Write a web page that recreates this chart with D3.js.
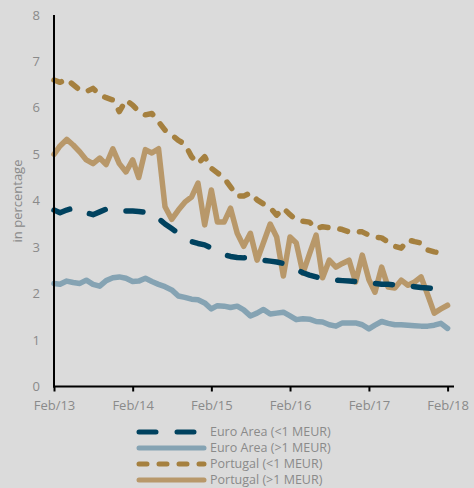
<!DOCTYPE html>
<html>
<head>
<meta charset="utf-8">
<script src="https://cdn.jsdelivr.net/npm/d3@7"></script>
<style>
  body { margin: 0; background: #dbdbdb; }
  svg { display: block; font-family: "Open Sans", sans-serif; }
</style>
</head>
<body>
<div id="chart"></div>
<script>
// monthly observations, Feb 2013 .. Feb 2018
const months = d3.timeMonth.range(new Date(2013, 1, 1), new Date(2018, 2, 1));

const euroSmall = [3.8, 3.74, 3.8, 3.84, 3.82, 3.74, 3.7, 3.76, 3.82, 3.82, 3.8, 3.78, 3.78, 3.77, 3.75, 3.74,
  3.62, 3.5, 3.4, 3.3, 3.2, 3.12, 3.08, 3.05, 2.98, 2.9, 2.84, 2.8, 2.78, 2.77, 2.77, 2.75, 2.72, 2.7, 2.68,
  2.65, 2.6, 2.52, 2.45, 2.4, 2.36, 2.32, 2.3, 2.29, 2.28, 2.27, 2.26, 2.25, 2.24, 2.22, 2.2, 2.2, 2.19,
  2.18, 2.17, 2.15, 2.13, 2.12, 2.11, 2.1, 2.1];

const euroLarge = [2.22, 2.2, 2.27, 2.24, 2.22, 2.29, 2.2, 2.16, 2.28, 2.34, 2.36, 2.33, 2.26, 2.27, 2.33, 2.26,
  2.2, 2.15, 2.08, 1.95, 1.92, 1.88, 1.87, 1.8, 1.67, 1.74, 1.73, 1.7, 1.73, 1.65, 1.52, 1.58, 1.66, 1.56,
  1.58, 1.6, 1.52, 1.44, 1.46, 1.45, 1.4, 1.39, 1.33, 1.3, 1.37, 1.37, 1.37, 1.33, 1.24, 1.32, 1.4, 1.36,
  1.33, 1.33, 1.32, 1.31, 1.3, 1.3, 1.32, 1.36, 1.25];

const ptSmall = [6.6, 6.55, 6.62, 6.5, 6.38, 6.35, 6.42, 6.28, 6.22, 6.17, 5.92, 6.17, 6.06, 5.92, 5.85, 5.88,
  5.7, 5.52, 5.42, 5.3, 5.22, 4.95, 4.8, 4.95, 4.7, 4.6, 4.49, 4.3, 4.1, 4.1, 4.17, 4.02, 3.93, 3.85, 3.69,
  3.84, 3.7, 3.59, 3.56, 3.54, 3.4, 3.44, 3.42, 3.41, 3.38, 3.33, 3.34, 3.33, 3.26, 3.22, 3.2, 3.11, 3.02,
  2.98, 3.16, 3.12, 3.09, 2.94, 2.9, 2.87, 2.85];

const ptLarge = [5.0, 5.18, 5.32, 5.2, 5.05, 4.88, 4.8, 4.92, 4.78, 5.12, 4.8, 4.62, 4.88, 4.5, 5.1, 5.03,
  5.12, 3.87, 3.6, 3.8, 3.97, 4.08, 4.38, 3.48, 4.23, 3.54, 3.54, 3.84, 3.3, 3.02, 3.3, 2.72, 3.1, 3.5, 3.22,
  2.38, 3.22, 3.09, 2.44, 2.85, 3.26, 2.34, 2.72, 2.57, 2.65, 2.72, 2.25, 2.83, 2.3, 2.03, 2.57, 2.14, 2.12,
  2.29, 2.18, 2.25, 2.36, 1.97, 1.58, 1.67, 1.75];

const seriesNames = ["Euro Area (<1 MEUR)", "Euro Area (>1 MEUR)", "Portugal (<1 MEUR)", "Portugal (>1 MEUR)"];
const yTicks = [0, 1, 2, 3, 4, 5, 6, 7, 8];
const xTickYears = [2013, 2014, 2015, 2016, 2017, 2018];

const width = 474, height = 488;

const series = [
  { name: seriesNames[0], values: euroSmall, color: "#00425f", dash: "17,21" },
  { name: seriesNames[1], values: euroLarge, color: "#85a3b3", dash: null },
  { name: seriesNames[2], values: ptSmall, color: "#a5803f", dash: "8,12" },
  { name: seriesNames[3], values: ptLarge, color: "#b8986a", dash: null }
];

const svg = d3.select("#chart").append("svg")
  .attr("width", width)
  .attr("height", height);

svg.append("rect").attr("width", width).attr("height", height).attr("fill", "#dbdbdb");

const x = d3.scaleTime()
  .domain([new Date(2013, 1, 1), new Date(2018, 1, 1)])
  .range([54, 447.6]);

const y = d3.scaleLinear()
  .domain([0, 8])
  .range([386.5, 15]);

// y tick labels (no tick marks)
svg.append("g")
  .selectAll("text")
  .data(yTicks)
  .join("text")
  .attr("x", 40)
  .attr("y", d => y(d))
  .attr("dy", "0.35em")
  .attr("text-anchor", "end")
  .attr("font-size", 13)
  .attr("fill", "#8a8a8a")
  .text(d => d);

// x axis
const xAxis = d3.axisBottom(x)
  .tickValues(xTickYears.map(yr => new Date(yr, 1, 1)))
  .tickFormat(d3.timeFormat("Feb/%y"))
  .tickSize(5)
  .tickSizeOuter(0)
  .tickPadding(9);

const xg = svg.append("g")
  .attr("transform", `translate(0, ${y(0)})`)
  .call(xAxis);
xg.select(".domain").remove();
xg.selectAll(".tick line").attr("stroke", "#000").attr("stroke-width", 2);
xg.selectAll(".tick text")
  .attr("font-family", "Open Sans, sans-serif")
  .attr("font-size", 13)
  .attr("fill", "#8a8a8a");

// series lines
const line = d3.line()
  .x((d, i) => x(months[i]))
  .y(d => y(d));

const plot = svg.append("g");
[series[2], series[3], series[0], series[1]].forEach(s => {
  plot.append("path")
    .datum(s.values)
    .attr("d", line)
    .attr("fill", "none")
    .attr("stroke", s.color)
    .attr("stroke-width", 5.5)
    .attr("stroke-linecap", "round")
    .attr("stroke-linejoin", "round")
    .attr("stroke-dasharray", s.dash);
});

// axis lines
svg.append("line")
  .attr("x1", 54).attr("x2", 54)
  .attr("y1", y(8)).attr("y2", y(0) + 1)
  .attr("stroke", "#000").attr("stroke-width", 2);
svg.append("line")
  .attr("x1", 53).attr("x2", 454)
  .attr("y1", y(0)).attr("y2", y(0))
  .attr("stroke", "#000").attr("stroke-width", 2);

// y axis title
svg.append("text")
  .attr("transform", `translate(22, 201) rotate(-90)`)
  .attr("text-anchor", "middle")
  .attr("font-size", 13)
  .attr("fill", "#8a8a8a")
  .text("in percentage");

// legend
const legend = svg.append("g");
const legendRow = legend.selectAll("g")
  .data(series)
  .join("g")
  .attr("transform", (d, i) => `translate(0, ${432 + i * 16})`);

legendRow.append("line")
  .attr("x1", 139).attr("x2", 204)
  .attr("stroke", d => d.color)
  .attr("stroke-width", 5)
  .attr("stroke-linecap", "round")
  .attr("stroke-dasharray", d => d.dash);

legendRow.append("text")
  .attr("x", 210)
  .attr("dy", "0.35em")
  .attr("font-size", 12.5)
  .attr("fill", "#8a8a8a")
  .text(d => d.name);
</script>
</body>
</html>
